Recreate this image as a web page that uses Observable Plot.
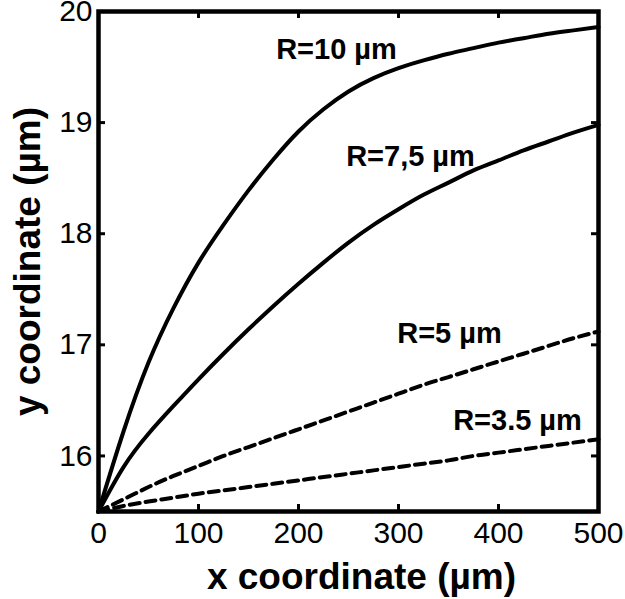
<!DOCTYPE html>
<html><head><meta charset="utf-8">
<script src="https://cdn.jsdelivr.net/npm/d3@7"></script>
<script src="https://cdn.jsdelivr.net/npm/@observablehq/plot@0.6"></script>
<style>body{margin:0;background:#fff}</style>
</head><body><div id="chart"></div>
<script>
const xValues = [0,25,50,75,100,125,150,175,200,225,250,275,300,325,350,375,400,425,450,475,500];
const yR10 = [15.5,16.22,16.84,17.33,17.74,18.08,18.39,18.67,18.92,19.12,19.28,19.4,19.49,19.56,19.62,19.67,19.72,19.76,19.8,19.83,19.86];
const yR75 = [15.5,15.9,16.2,16.45,16.69,16.92,17.14,17.35,17.55,17.74,17.92,18.08,18.22,18.35,18.46,18.57,18.66,18.75,18.83,18.91,18.98];
const yR5  = [15.5,15.61,15.72,15.82,15.91,16.0,16.08,16.16,16.24,16.32,16.4,16.48,16.56,16.64,16.71,16.78,16.85,16.92,16.99,17.06,17.12];
const yR35 = [15.5,15.55,15.59,15.625,15.66,15.69,15.72,15.75,15.78,15.81,15.84,15.87,15.9,15.93,15.96,16.0,16.03,16.06,16.09,16.12,16.15];
const seriesNames = ["R10","R7.5","R5","R3.5"];
const seriesDashed = [false,false,true,true];
const labelText = ["R=10 µm","R=7,5 µm","R=5 µm","R=3.5 µm"];
const labelX = [238,312,351,419];
const labelY = [19.66,18.69,17.1,16.32];
const xTicks = [0,100,200,300,400,500];
const yTicks = [16,17,18,19,20];

const allY = [yR10,yR75,yR5,yR35];
const rows = [];
seriesNames.forEach((s,i)=>xValues.forEach((x,j)=>rows.push({series:s,dashed:seriesDashed[i],x,y:allY[i][j]})));
const labels = labelText.map((t,i)=>({text:t,x:labelX[i],y:labelY[i]}));

const chart = Plot.plot({
  width: 625, height: 599,
  marginLeft: 98, marginRight: 27, marginTop: 11, marginBottom: 88,
  style: {fontFamily: "'Liberation Sans', Arial, sans-serif", background: "white", color: "black"},
  x: {domain: [0,500]},
  y: {domain: [15.5,20]},
  marks: [
    Plot.line(rows.filter(d=>!d.dashed), {x:"x", y:"y", z:"series", stroke:"black", strokeWidth:4, curve:"natural"}),
    Plot.line(rows.filter(d=>d.dashed), {x:"x", y:"y", z:"series", stroke:"black", strokeWidth:4, strokeDasharray:"10,6", curve:"natural"}),
    Plot.tickX(xTicks, {x:d=>d, insetTop:493, stroke:"black", strokeWidth:3}),
    Plot.tickX(xTicks, {x:d=>d, insetBottom:493, stroke:"black", strokeWidth:3}),
    Plot.tickY(yTicks, {y:d=>d, insetRight:493, stroke:"black", strokeWidth:3}),
    Plot.tickY(yTicks, {y:d=>d, insetLeft:493, stroke:"black", strokeWidth:3}),
    Plot.frame({stroke:"black", strokeWidth:4.5}),
    Plot.axisX(xTicks, {tickSize:0, tickPadding:10, fontSize:30, label:null, tickFormat:d=>String(d)}),
    Plot.axisY(yTicks, {tickSize:0, tickPadding:6, fontSize:30, label:null, tickFormat:d=>String(d)}),
    Plot.text(labels, {x:"x", y:"y", text:"text", fontSize:29, fontWeight:"bold", textAnchor:"middle", lineAnchor:"middle"}),
    Plot.text(["x coordinate (µm)"], {text:d=>d, frameAnchor:"bottom", dx:13, dy:66, fontSize:37, fontWeight:"bold", textAnchor:"middle", lineAnchor:"middle"}),
    Plot.text(["y coordinate (µm)"], {text:d=>d, frameAnchor:"left", dx:-70, rotate:-90, fontSize:37, fontWeight:"bold", textAnchor:"middle", lineAnchor:"middle"})
  ]
});
document.getElementById("chart").appendChild(chart);
</script></body></html>
